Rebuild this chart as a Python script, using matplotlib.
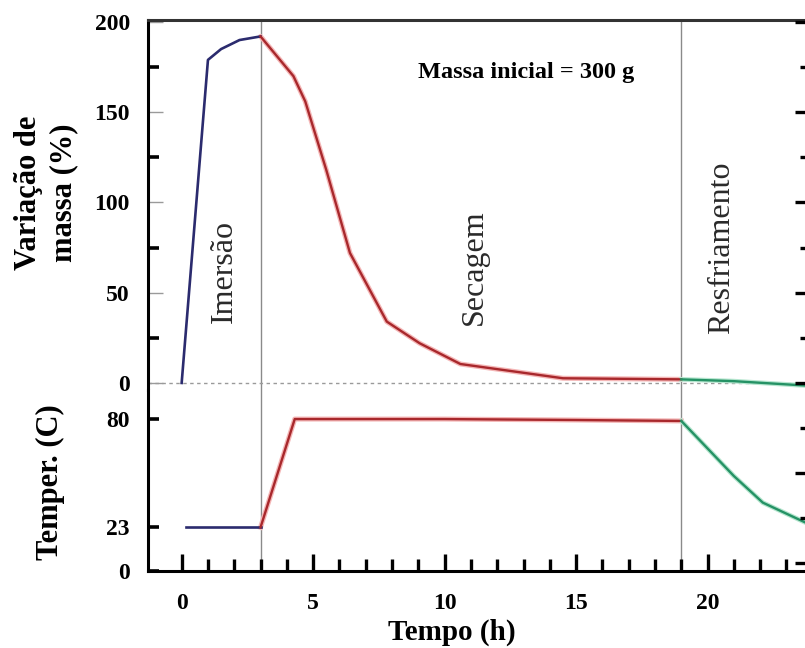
import matplotlib
matplotlib.use("Agg")
import matplotlib.pyplot as plt
from matplotlib.ticker import FixedLocator

plt.rcParams['font.family'] = ['Liberation Serif', 'DejaVu Serif']

# ---------------- data ----------------
# mass variation (%) vs time (h)
imersao_t = [0, 1.0, 1.5, 2.2, 3.0]
imersao_m = [0, 179, 185, 190, 192]
secagem_t = [3.0, 4.25, 4.7, 5.5, 6.4, 7.8, 9.05, 10.6, 14.5, 19.0]
secagem_m = [192, 170, 156, 118, 72, 34, 22, 10.5, 2.6, 2.0]
resfr_t = [19.0, 21.0, 23.8]
resfr_m = [2.0, 1.0, -1.5]

# temperature (C) vs time (h)
imersao_temp_t = [0.15, 3.0]
imersao_temp = [23, 23]
secagem_temp_t = [3.0, 4.3, 10, 15, 19.0]
secagem_temp = [23, 80, 80, 79.5, 79]
resfr_temp_t = [19.0, 21.0, 22.1, 23.8]
resfr_temp = [79, 50, 36, 25]

phase_bounds = [3, 19]
phase_labels = ["Imersão", "Secagem", "Resfriamento"]
phase_label_x = [1.63, 11.14, 20.53]
phase_label_y = [62, 64, 75]

mass_ticks = [0, 50, 100, 150, 200]
mass_minor = [25, 75, 125, 175]
temp_ticks = [0, 23, 80]
x_major = [0, 5, 10, 15, 20]
x_minor = list(range(0, 24))

# ---------------- layout ----------------
FW, FH = 805, 648
fig = plt.figure(figsize=(FW / 100, FH / 100), dpi=100)
L = 148 / FW
R = 807 / FW
W = R - L
y_top = 1 - 20 / FH
y_mid = 1 - 390 / FH
y_bot = 1 - 571 / FH

ax1 = fig.add_axes([L, y_mid, W, y_top - y_mid])
ax2 = fig.add_axes([L, y_bot, W, y_mid - y_bot])
ax3 = fig.add_axes([L, y_bot, W, y_top - y_bot])
ax3.patch.set_visible(False)

XL = (-1.28, 23.78)
for ax in (ax1, ax2, ax3):
    ax.set_xlim(*XL)
ax1.set_ylim(-3.9, 201.1)
ax2.set_ylim(0, 95.3)
ax3.set_ylim(-104.2, 201.1)

BLUE = '#2b2b6e'
RED = '#a8282c'
RED_HALO = '#f4b6b6'
GREEN = '#259265'
GREEN_HALO = '#b6e6cf'
GRAY = '#8a8a8a'

# phase boundaries
for ax in (ax1, ax2):
    for xb in phase_bounds:
        ax.axvline(xb, color=GRAY, lw=1.0, zorder=1)
ax1.axhline(0, color='#9a9a9a', lw=1.0, ls=(0, (2.5, 2.5)), zorder=1)

# curves
ax1.plot(imersao_t, imersao_m, color=BLUE, lw=1.9, zorder=3)
ax1.plot(secagem_t, secagem_m, color=RED_HALO, lw=3.6, zorder=2, solid_capstyle='round')
ax1.plot(secagem_t, secagem_m, color=RED, lw=1.7, zorder=3)
ax1.plot(resfr_t, resfr_m, color=GREEN_HALO, lw=3.4, zorder=2)
ax1.plot(resfr_t, resfr_m, color=GREEN, lw=1.7, zorder=3)

ax2.plot(imersao_temp_t, imersao_temp, color=BLUE, lw=1.9, zorder=3)
ax2.plot(secagem_temp_t, secagem_temp, color=RED_HALO, lw=3.6, zorder=2)
ax2.plot(secagem_temp_t, secagem_temp, color=RED, lw=1.7, zorder=3)
ax2.plot(resfr_temp_t, resfr_temp, color=GREEN_HALO, lw=3.4, zorder=2)
ax2.plot(resfr_temp_t, resfr_temp, color=GREEN, lw=1.7, zorder=3)

# spines
for s in ('bottom', 'right'):
    ax1.spines[s].set_visible(False)
ax1.spines['left'].set_linewidth(2.2)
ax1.spines['top'].set_linewidth(2.2)
ax1.spines['top'].set_color('#333333')
for s in ('top', 'right'):
    ax2.spines[s].set_visible(False)
ax2.spines['left'].set_linewidth(2.2)
ax2.spines['bottom'].set_linewidth(2.2)
for s in ax3.spines.values():
    s.set_visible(False)

# ticks top panel
ax1.tick_params(axis='x', which='both', bottom=False, labelbottom=False)
ax1.yaxis.set_major_locator(FixedLocator(mass_ticks))
ax1.yaxis.set_minor_locator(FixedLocator(mass_minor))
ax1.tick_params(axis='y', which='major', direction='in', length=11, width=1.0,
                color='#9a9a9a', pad=13, labelsize=17)
ax1.tick_params(axis='y', which='minor', direction='in', length=8, width=2.6,
                color='black')

# ticks bottom panel
ax2.yaxis.set_major_locator(FixedLocator(temp_ticks))
ax2.tick_params(axis='y', which='major', direction='in', length=8, width=2.6,
                color='black', pad=13, labelsize=17)
ax2.xaxis.set_major_locator(FixedLocator(x_major))
ax2.xaxis.set_minor_locator(FixedLocator(x_minor))
ax2.tick_params(axis='x', which='major', direction='in', length=12, width=2.4,
                pad=16, labelsize=17)
ax2.tick_params(axis='x', which='minor', direction='in', length=8.5, width=2.4)

# right-side ticks (partially cut off axis)
ax3.tick_params(axis='x', which='both', bottom=False, labelbottom=False)
ax3.yaxis.tick_right()
ax3.yaxis.set_major_locator(FixedLocator(list(range(-100, 201, 50))))
ax3.yaxis.set_minor_locator(FixedLocator(list(range(-75, 200, 50))))
ax3.tick_params(axis='y', which='major', direction='in', length=9, width=2.4,
                labelright=False, left=False, right=True)
ax3.tick_params(axis='y', which='minor', direction='in', length=5, width=2.4,
                left=False, right=True)

for ax in (ax1, ax2):
    for lab in ax.get_yticklabels() + ax.get_xticklabels():
        lab.set_fontweight('bold')

# texts
for lab, xx, yy in zip(phase_labels, phase_label_x, phase_label_y):
    ax1.text(xx, yy, lab, rotation=90, ha='center', va='center',
             fontsize=23, color='#2a2a2a')
ax1.text(13.1, 172, "Massa inicial = 300 g", ha='center', va='center',
         fontsize=17.5, fontweight='bold')

fig.text(46 / FW, 1 - 193 / FH, "Variação de\nmassa (%)", rotation=90,
         ha='center', va='center', fontsize=22, fontweight='bold',
         linespacing=1.25, multialignment='center')
fig.text(50 / FW, 1 - 482 / FH, "Temper. (C)", rotation=90,
         ha='center', va='center', fontsize=22, fontweight='bold')
fig.text(452 / FW, 1 - 632 / FH, "Tempo (h)", ha='center', va='center',
         fontsize=21, fontweight='bold')

fig.savefig("out.png", dpi=100)
